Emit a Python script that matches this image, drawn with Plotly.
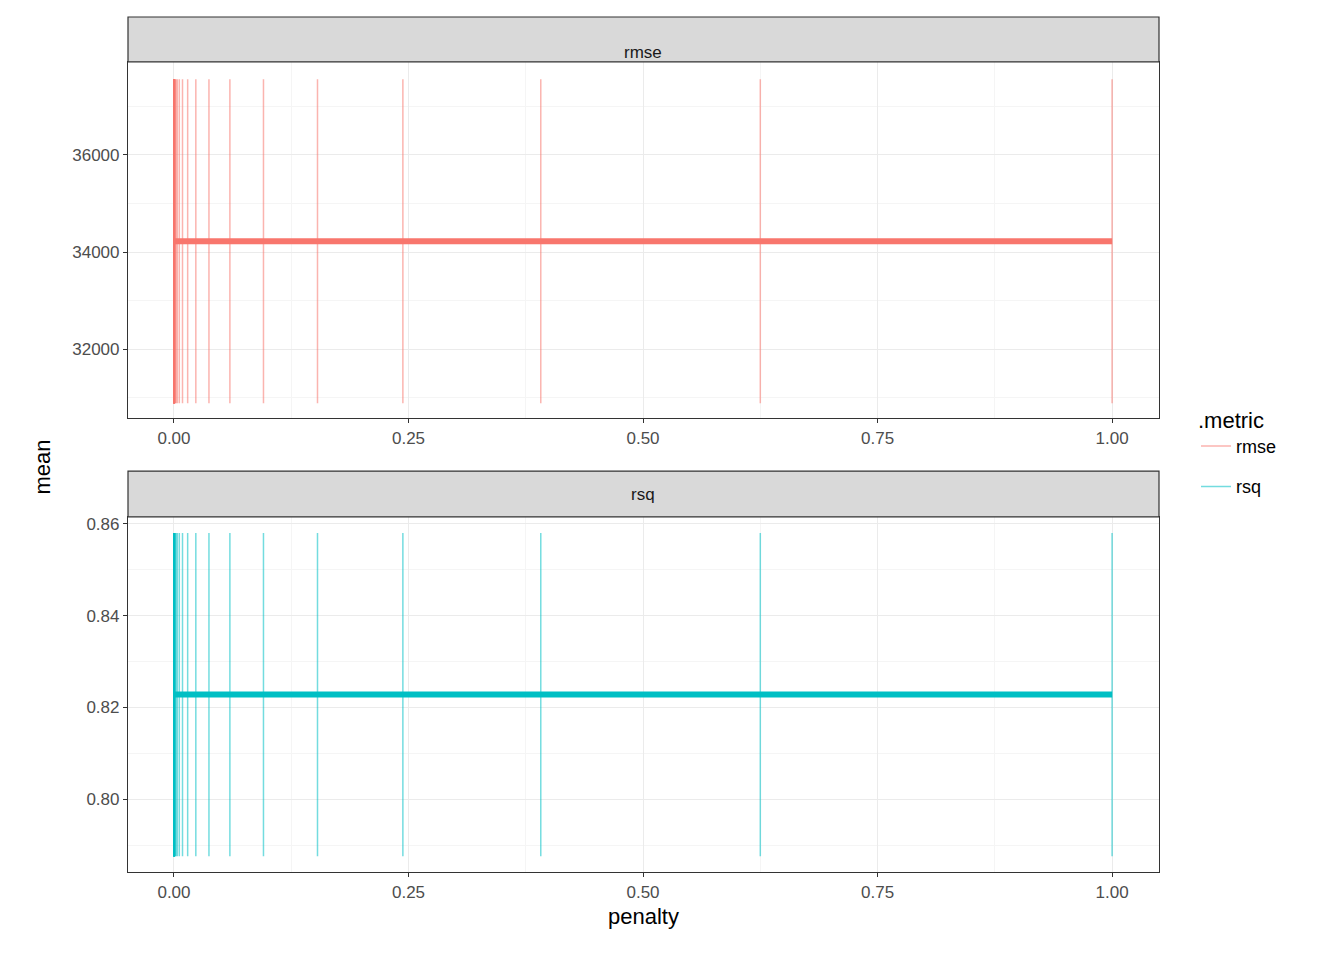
import plotly.graph_objects as go

# penalty grid (log spaced)
penalty = [1.0, 0.625, 0.391, 0.244, 0.153, 0.0954, 0.0596, 0.0373, 0.0233, 0.0146,
           0.00910, 0.00569, 0.00356, 0.00222, 0.00139, 0.000869, 0.000543, 0.000339,
           0.000212, 0.000133, 0.0000829, 0.0000518, 0.0000324, 0.0000202, 0.0000127,
           0.00000791, 0.00000494, 0.00000309, 0.00000193, 0.00000121, 0.000000754,
           0.000000471, 0.000000295, 0.000000184, 0.000000115]
rmse_mean = [34220] * len(penalty)
rmse_err = [3330] * len(penalty)
rsq_mean = [0.8228] * len(penalty)
rsq_err = [0.0352] * len(penalty)

red, teal = "#F8766D", "#00BFC4"
font = "Liberation Sans, Arial, sans-serif"

W, H = 1344, 960
def px(x):  # pixel -> paper x (page has 8px body offset)
    return (x - 8) / W
def py(y):
    return 1 - (y - 8) / H

fig = go.Figure()
for mean, err, col, name, ax in [(rmse_mean, rmse_err, red, "rmse", ""),
                                 (rsq_mean, rsq_err, teal, "rsq", "2")]:
    rgba = "rgba(248,118,109,0.55)" if name == "rmse" else "rgba(0,191,196,0.55)"
    fig.add_trace(go.Scatter(x=penalty, y=mean, mode="markers", marker=dict(size=0.1, color=rgba),
                             error_y=dict(type="data", array=err, color=rgba, thickness=1.5, width=0),
                             xaxis="x" + ax, yaxis="y" + ax, showlegend=False, hoverinfo="skip"))
    fig.add_trace(go.Scatter(x=penalty, y=mean, mode="lines", line=dict(color=col, width=6),
                             xaxis="x" + ax, yaxis="y" + ax, showlegend=False))
    fig.add_trace(go.Scatter(x=[None], y=[None], mode="lines", name=name, legendgroup=name,
                             line=dict(color=rgba, width=1.5), xaxis="x" + ax, yaxis="y" + ax))

xcommon = dict(range=[-0.049, 1.05], tickvals=[0, 0.25, 0.5, 0.75, 1], tickformat=".2f",
               showgrid=True, gridcolor="#ebebeb", gridwidth=1.2, zeroline=False,
               minor=dict(showgrid=True, gridcolor="#f5f5f5", dtick=0.125, tick0=0),
               showline=True, mirror=True, linecolor="#333333", linewidth=1.2,
               ticks="outside", ticklen=4, tickcolor="#333333",
               tickfont=dict(size=17, color="#4d4d4d", family=font), domain=[px(128), px(1159)])
ycommon = dict(showgrid=True, gridcolor="#ebebeb", gridwidth=1.2, zeroline=False,
               showline=True, mirror=True, linecolor="#333333", linewidth=1.2,
               ticks="outside", ticklen=4, tickcolor="#333333",
               tickfont=dict(size=17, color="#4d4d4d", family=font))

fig.update_layout(
    width=W, height=H, margin=dict(l=0, r=0, t=0, b=0),
    plot_bgcolor="white", paper_bgcolor="white", font=dict(family=font),
    xaxis=dict(xcommon, anchor="y"),
    yaxis=dict(ycommon, domain=[py(417), py(60)], range=[30585, 37908],
               tickvals=[32000, 34000, 36000], tickformat="d",
               minor=dict(showgrid=True, gridcolor="#f5f5f5", dtick=1000, tick0=0)),
    xaxis2=dict(xcommon, anchor="y2"),
    yaxis2=dict(ycommon, domain=[py(872), py(516)], range=[0.7841, 0.8615],
                tickvals=[0.80, 0.82, 0.84, 0.86], tickformat=".2f",
                minor=dict(showgrid=True, gridcolor="#f5f5f5", dtick=0.01, tick0=0), anchor="x2"),
    legend=dict(x=px(1196), y=py(398), xanchor="left", yanchor="top",
                title=dict(text=".metric", font=dict(size=22, color="black")),
                font=dict(size=18, color="black"), tracegroupgap=14),
    shapes=[dict(type="rect", xref="paper", yref="paper", x0=px(128), x1=px(1159), y0=py(60), y1=py(15),
                 fillcolor="#d9d9d9", line=dict(color="#333333", width=1.2)),
            dict(type="rect", xref="paper", yref="paper", x0=px(128), x1=px(1159), y0=py(516), y1=py(470),
                 fillcolor="#d9d9d9", line=dict(color="#333333", width=1.2))],
    annotations=[
        dict(text="rmse", x=px(643), y=py(39), xref="paper", yref="paper", showarrow=False,
             font=dict(size=17, color="#1a1a1a")),
        dict(text="rsq", x=px(643), y=py(494), xref="paper", yref="paper", showarrow=False,
             font=dict(size=17, color="#1a1a1a")),
        dict(text="penalty", x=px(643), y=py(931), xref="paper", yref="paper", showarrow=False,
             font=dict(size=22, color="black")),
        dict(text="mean", x=px(28), y=py(466), xref="paper", yref="paper", showarrow=False,
             textangle=-90, font=dict(size=22, color="black")),
    ],
)
fig.write_html("out.html")
